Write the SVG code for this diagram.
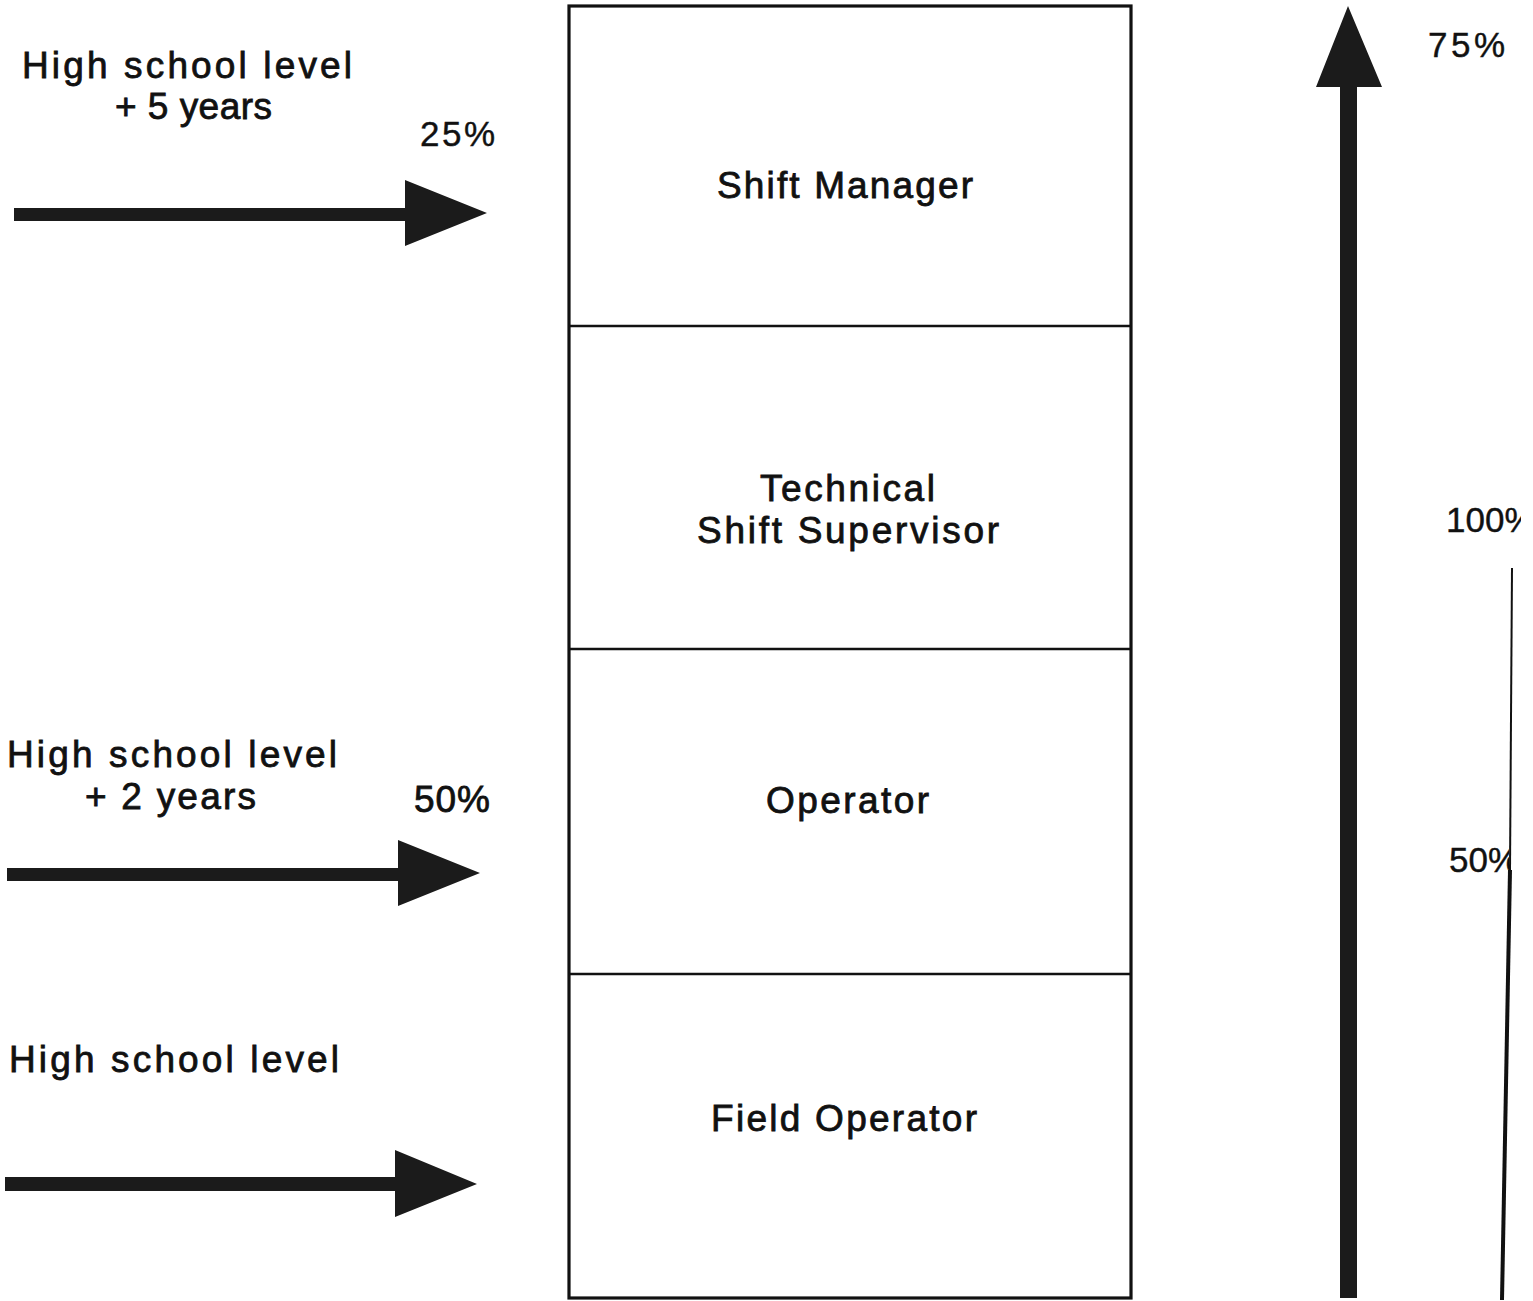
<svg xmlns="http://www.w3.org/2000/svg" width="1533" height="1301" viewBox="0 0 1533 1301">
<defs>
<style>
.t{font-family:"Liberation Sans",Arial,sans-serif;font-size:37px;fill:#111;stroke:#111;stroke-width:0.8px;}
.p{font-family:"Liberation Sans",Arial,sans-serif;font-size:35px;fill:#111;stroke:#111;stroke-width:0.4px;}
.box{fill:none;stroke:#111;stroke-width:3.2;}
.div{stroke:#111;stroke-width:2.5;}
.arr{fill:#1b1b1b;}
</style>
<clipPath id="clipR"><rect x="0" y="0" width="1521" height="1301"/></clipPath>
<clipPath id="clipR2"><rect x="0" y="0" width="1509" height="1301"/></clipPath>
</defs>
<rect width="1533" height="1301" fill="#fff"/>

<g id="ladder">
<rect class="box" x="569" y="6" width="562" height="1292"/>
<line class="div" x1="569" y1="326" x2="1131" y2="326"/>
<line class="div" x1="569" y1="649" x2="1131" y2="649"/>
<line class="div" x1="569" y1="974" x2="1131" y2="974"/>
</g>
<g id="shift-manager"><text class="t" x="717" y="198" textLength="256" lengthAdjust="spacing">Shift Manager</text></g>
<g id="technical-shift-supervisor">
<text class="t" x="760" y="501" textLength="175" lengthAdjust="spacing">Technical</text>
<text class="t" x="697" y="543" textLength="302" lengthAdjust="spacing">Shift Supervisor</text>
</g>
<g id="operator"><text class="t" x="766" y="813" textLength="163" lengthAdjust="spacing">Operator</text></g>
<g id="field-operator"><text class="t" x="711" y="1131" textLength="266" lengthAdjust="spacing">Field Operator</text></g>

<g id="entry-5years">
<text class="t" x="22" y="78" textLength="330" lengthAdjust="spacing">High school level</text>
<text class="t" x="115" y="119" textLength="157" lengthAdjust="spacing">+ 5 years</text>
<text class="p" x="420" y="146" textLength="75" lengthAdjust="spacing">25%</text>
</g>
<g id="entry-2years">
<text class="t" x="7" y="767" textLength="330" lengthAdjust="spacing">High school level</text>
<text class="t" x="85" y="809" textLength="171" lengthAdjust="spacing">+ 2 years</text>
<text class="t" x="414" y="812" textLength="76" lengthAdjust="spacing">50%</text>
</g>
<g id="entry-highschool">
<text class="t" x="9" y="1072" textLength="330" lengthAdjust="spacing">High school level</text>
</g>
<g id="right-scale">
<text class="p" x="1428" y="57" textLength="77" lengthAdjust="spacing">75%</text>
<text class="p" x="1446" y="532" clip-path="url(#clipR)">100%</text>
<text class="p" x="1449" y="872" clip-path="url(#clipR2)">50%</text>
</g>

<g id="connectors">
<path class="arr" d="M14,208 H405 V180 L487,213 L405,246 V221 H14 Z"/>
<path class="arr" d="M7,868 H398 V840 L480,873 L398,906 V881 H7 Z"/>
<path class="arr" d="M5,1177 H395 V1150 L477,1184 L395,1217 V1191 H5 Z"/>
<path class="arr" d="M1340,1298 V87 H1316 L1348,6 L1382,87 H1357 V1298 Z"/>
<path d="M1512,568 L1510,870" stroke="#111" stroke-width="2" fill="none"/>
<path d="M1510,870 L1502,1300" stroke="#111" stroke-width="4" fill="none"/>
</g>
</svg>
